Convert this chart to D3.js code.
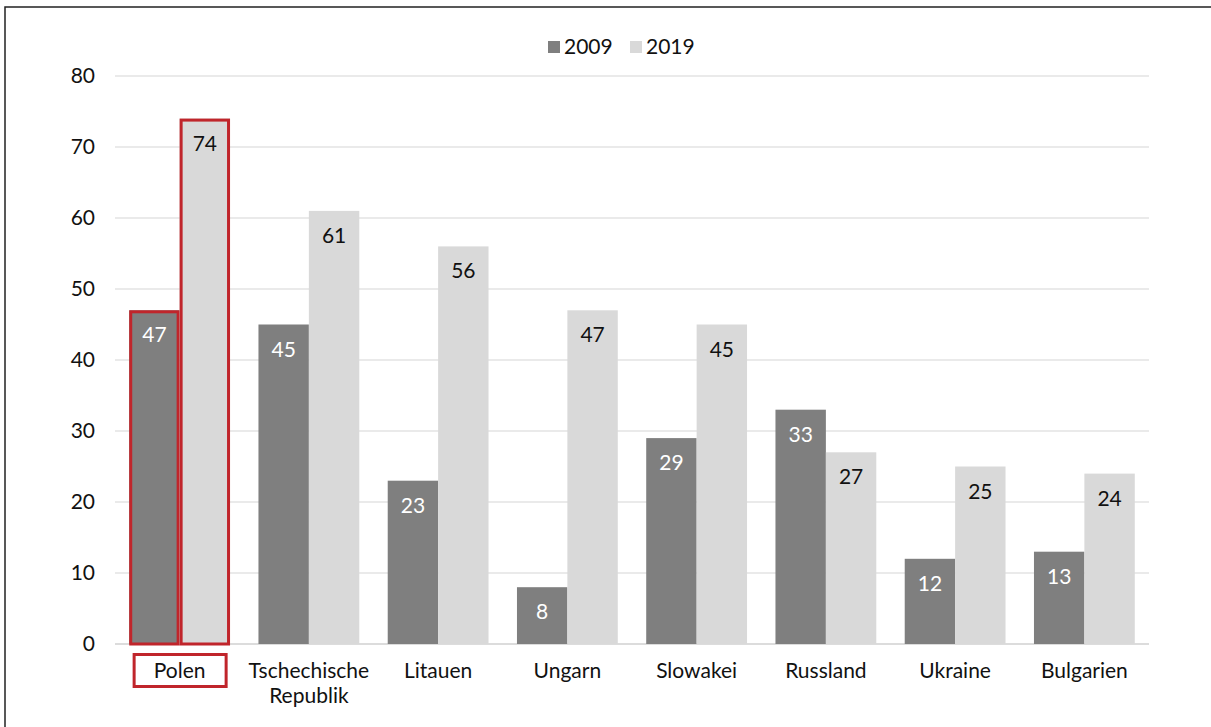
<!DOCTYPE html>
<html><head><meta charset="utf-8">
<script src="https://cdn.jsdelivr.net/npm/d3@7"></script>
<style>body{margin:0;background:#fff;} svg{display:block;font-family:Lato, "Open Sans", sans-serif;}</style>
</head><body>
<svg id="c" width="1211" height="727"></svg>
<script>
const categories = ["Polen","Tschechische Republik","Litauen","Ungarn","Slowakei","Russland","Ukraine","Bulgarien"];
const labelLines = [["Polen"],["Tschechische","Republik"],["Litauen"],["Ungarn"],["Slowakei"],["Russland"],["Ukraine"],["Bulgarien"]];
const series = ["2009","2019"];
const values2009 = [47,45,23,8,29,33,12,13];
const values2019 = [74,61,56,47,45,27,25,24];
const yTicks = [0,10,20,30,40,50,60,70,80];
const highlight = "Polen";

const svg = d3.select("#c");
const W = 1211, H = 727;
const m = {left:115, right:1149, top:76, bottom:644};
const colors = {"2009":"#7f7f7f","2019":"#d9d9d9"};
const red = "#c0252b";
const FS = 21;

svg.append("rect").attr("x",5).attr("y",7).attr("width",W).attr("height",H)
  .attr("fill","none").attr("stroke","#222").attr("stroke-width",1.5);

const x = d3.scaleBand().domain(categories).range([m.left,m.right]).paddingInner(0.22).paddingOuter(0.11);
const xs = d3.scaleBand().domain(series).range([0,x.bandwidth()]).padding(0);
const y = d3.scaleLinear().domain([0,80]).range([m.bottom,m.top]);

// gridlines
svg.append("g").selectAll("line").data(yTicks).join("line")
  .attr("x1",m.left).attr("x2",m.right).attr("y1",d=>y(d)).attr("y2",d=>y(d))
  .attr("stroke",d=>d===0?"#d0d0d0":"#e3e3e3").attr("stroke-width",1.5);

// y axis labels
const yAxis = d3.axisLeft(y).tickValues(yTicks).tickSize(0).tickPadding(0);
const ga = svg.append("g").attr("transform",`translate(95,0)`).call(yAxis);
ga.select(".domain").remove();
ga.selectAll("text").attr("font-size",FS).attr("fill","#111").attr("font-family","Lato, sans-serif");

const data = categories.map((c,i)=>({cat:c, vals:[{s:"2009",v:values2009[i]},{s:"2019",v:values2019[i]}]}));

const g = svg.append("g");
data.forEach(d=>{
  d.vals.forEach(b=>{
    const bx = x(d.cat)+xs(b.s), bw = xs.bandwidth();
    g.append("rect").attr("x",bx).attr("y",y(b.v)).attr("width",bw).attr("height",y(0)-y(b.v))
      .attr("fill",colors[b.s]);
    g.append("text").attr("x",bx+bw/2).attr("y",y(b.v)+32).attr("text-anchor","middle")
      .attr("font-size",FS).attr("fill",b.s==="2009"?"#fff":"#111").text(b.v);
    if(d.cat===highlight){
      g.append("rect").attr("x",bx+1.5).attr("y",y(b.v)+1.5).attr("width",bw-3).attr("height",y(0)-y(b.v)-1.5)
        .attr("fill","none").attr("stroke",red).attr("stroke-width",3);
    }
  });
});

// x labels
const xl = svg.append("g");
categories.forEach((c,i)=>{
  const cx = x(c)+x.bandwidth()/2;
  const t = xl.append("text").attr("text-anchor","middle").attr("font-size",FS).attr("fill","#111");
  labelLines[i].forEach((ln,j)=>{
    t.append("tspan").attr("x",cx).attr("y",678+j*25).text(ln);
  });
  if(c===highlight){
    xl.append("rect").attr("x",cx-45.5).attr("y",654.5).attr("width",92).attr("height",32)
      .attr("fill","none").attr("stroke",red).attr("stroke-width",3);
  }
});

// legend
const lg = svg.append("g");
const legendItems = [{s:"2009",x:548},{s:"2019",x:630}];
legendItems.forEach(it=>{
  lg.append("rect").attr("x",it.x).attr("y",41).attr("width",12).attr("height",12).attr("fill",colors[it.s]);
  lg.append("text").attr("x",it.x+16).attr("y",54).attr("font-size",FS).attr("fill","#111").text(it.s);
});
</script>
</body></html>
